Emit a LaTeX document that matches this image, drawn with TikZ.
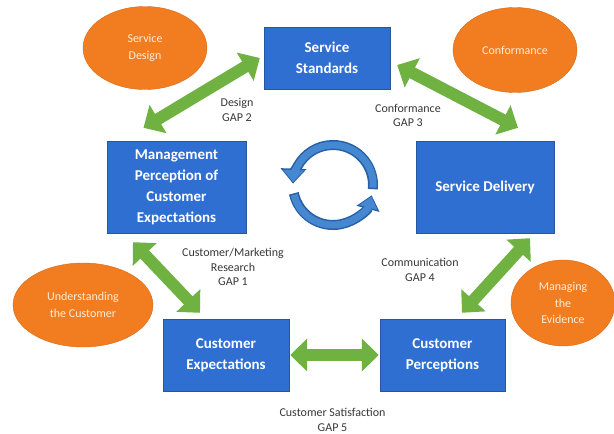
\documentclass[tikz,border=0pt]{standalone}
\usepackage{fontspec}
\setmainfont{Carlito}
\usetikzlibrary{arrows.meta}
\usetikzlibrary{shapes.geometric}
\definecolor{boxblue}{RGB}{47,111,210}
\definecolor{boxedge}{RGB}{40,85,160}
\definecolor{ovalorange}{RGB}{242,125,32}
\definecolor{ovaledge}{RGB}{215,105,25}
\definecolor{ovaltext}{RGB}{255,236,214}
\definecolor{gapgreen}{RGB}{112,178,66}
\definecolor{labelgray}{RGB}{55,55,55}
\definecolor{cycdark}{RGB}{40,96,165}
\definecolor{cyclight}{RGB}{70,135,210}

\begin{document}
\begin{tikzpicture}[x=1pt,y=-1pt,
 box/.style={draw=boxedge, fill=boxblue, text=white, font=\bfseries\fontsize{15}{21}\selectfont, align=center, inner sep=0pt},
 oval/.style={ellipse, draw=ovaledge, fill=ovalorange, text=ovaltext, font=\fontsize{12}{16.5}\selectfont, align=center, inner sep=0pt},
 gap/.style={line width=12pt, gapgreen, {Triangle[width=32pt,length=17pt]}-{Triangle[width=32pt,length=17pt]}},
 gaplabel/.style={text=labelgray, font=\fontsize{12}{14.5}\selectfont, align=center, inner sep=0pt}]
\useasboundingbox (0,0) rectangle (614,434);

\node[oval, minimum width=124pt, minimum height=83pt] (sdes) at (145,48) {Service\\Design};
\node[oval, minimum width=124pt, minimum height=85pt] (conf) at (515,50) {Conformance};
\node[oval, minimum width=140pt, minimum height=84pt] (under) at (83,305) {Understanding\\the Customer};
\node[oval, minimum width=104pt, minimum height=86pt] (manag) at (563,303) {Managing\\the\\Evidence};

\node[box, minimum width=126pt, minimum height=62pt] (std) at (327,58) {Service\\Standards};
\node[box, minimum width=139pt, minimum height=92pt] (mgmt) at (176.5,187) {Management\\Perception of\\Customer\\Expectations};
\node[box, minimum width=138pt, minimum height=92pt] (sd) at (485,187) {Service Delivery};
\node[box, minimum width=126pt, minimum height=72pt] (ce) at (226,355) {Customer\\Expectations};
\node[box, minimum width=125pt, minimum height=72pt] (cp) at (442.5,355) {Customer\\Perceptions};

\draw[gap] ([xshift=-33pt,yshift=13pt]mgmt.north) -- ([xshift=-4pt]std.west);
\draw[gap] ([xshift=7pt,yshift=-7pt]std.east) -- ([xshift=33pt,yshift=13pt]sd.north);
\draw[gap] ([xshift=-43.5pt,yshift=-9pt]mgmt.south) -- ([xshift=-26pt,yshift=6pt]ce.north);
\draw[gap] ([xshift=45pt,yshift=-5pt]sd.south) -- ([xshift=19.5pt,yshift=6pt]cp.north);
\draw[gap] ([xshift=1pt]ce.east) -- ([xshift=-1pt]cp.west);

\node[gaplabel] (lbltwo) at (237,110) {Design\\GAP 2};
\node[gaplabel] (lblthree) at (408,115.5) {Conformance\\GAP 3};
\node[gaplabel] (lblone) at (233,267) {Customer/Marketing\\Research\\GAP 1};
\node[gaplabel] (lblfour) at (420,270) {Communication\\GAP 4};
\node[gaplabel] (lblfive) at (332.5,420) {Customer Satisfaction\\GAP 5};

\begin{scope}[shift={(333,185)}, yscale=-1]
\draw[line width=10pt, cycdark, -{Triangle[width=25pt,length=15pt]}] (-6:40) arc[start angle=-6, end angle=178, radius=40];
\draw[line width=7pt, cyclight, shorten >=1.5pt, shorten <=1.5pt, -{Triangle[width=20pt,length=12pt]}] (-6:40) arc[start angle=-6, end angle=178, radius=40];
\draw[line width=10pt, cycdark, -{Triangle[width=23pt,length=14pt]}] (192:40) arc[start angle=192, end angle=345, radius=40];
\draw[line width=7pt, cyclight, shorten >=1.5pt, shorten <=1.5pt, -{Triangle[width=18pt,length=11pt]}] (192:40) arc[start angle=192, end angle=345, radius=40];
\end{scope}
\end{tikzpicture}
\end{document}
